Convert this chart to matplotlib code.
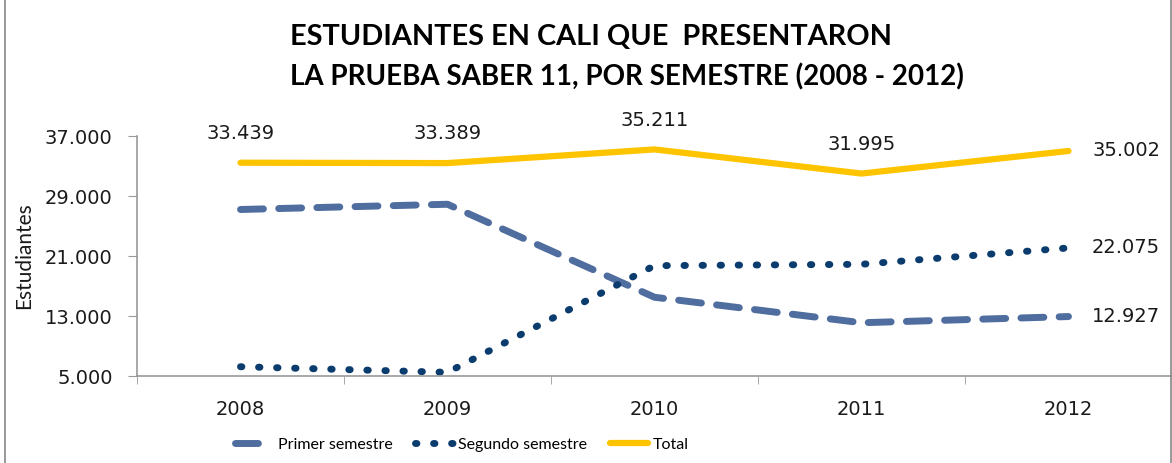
import matplotlib
matplotlib.use('Agg')
import matplotlib.pyplot as plt
from matplotlib.patches import Rectangle

years = ["2008", "2009", "2010", "2011", "2012"]
primer = [27200, 27900, 15500, 12100, 12927]
segundo = [6239, 5489, 19711, 19895, 22075]
total = [33439, 33389, 35211, 31995, 35002]
yticks = [5000, 13000, 21000, 29000, 37000]


def fmt(v):
    return "{:,}".format(v).replace(",", ".")


fig = plt.figure(figsize=(11.72, 4.63), dpi=100)
ax = fig.add_axes([137 / 1172, 1 - 376 / 463, 1 - 137 / 1172, 240 / 463])

x = list(range(len(years)))
c_primer = "#4f6d9e"
c_segundo = "#0b3c6e"
c_total = "#ffc400"

ax.plot(x, primer, color=c_primer, lw=5, dashes=(3.3, 2.2),
        dash_capstyle='round', label="Primer semestre")
ax.plot(x, segundo, color=c_segundo, lw=5, dashes=(0.2, 2.4),
        dash_capstyle='round', label="Segundo semestre")
ax.plot(x, total, color=c_total, lw=4.5, solid_capstyle='round',
        label="Total")

lab = dict(fontsize=14, color="#1a1a1a", family="DejaVu Sans")
for i in range(4):
    ax.annotate(fmt(total[i]), (x[i], total[i]), xytext=(0, 21),
                textcoords='offset points', ha='center', va='center', **lab)
for series in (total, segundo, primer):
    ax.annotate(fmt(series[-1]), (x[-1], series[-1]), xytext=(17, 0),
                textcoords='offset points', ha='left', va='center', **lab)

ax.set_xlim(-0.5, 4.5)
ax.set_ylim(5000, 37000)
ax.set_yticks(yticks)
ax.set_yticklabels([fmt(v) for v in yticks], fontsize=14, color="#1a1a1a")
ax.set_xticks(x)
ax.set_xticklabels(years, fontsize=14, color="#1a1a1a")
ax.set_xticks([i - 0.5 for i in range(6)], minor=True)
ax.tick_params(axis='x', which='major', length=0, pad=17.5)
ax.tick_params(axis='x', which='minor', length=6, color="#999999")
ax.tick_params(axis='y', length=6.5, color="#999999", pad=11)
for s in ("top", "right"):
    ax.spines[s].set_visible(False)
for s in ("left", "bottom"):
    ax.spines[s].set_color("#999999")
    ax.spines[s].set_linewidth(1.2)
ax.set_ylabel("Estudiantes", fontsize=15, color="#1a1a1a", family="Lato")
ax.yaxis.set_label_coords(-0.099, 0.5)

fig.text(290 / 1172, 0.92, "ESTUDIANTES EN CALI QUE  PRESENTARON",
         ha='left', va='center', fontsize=20.8, fontweight='bold', family="Lato")
fig.text(290 / 1172, 0.833, "LA PRUEBA SABER 11, POR SEMESTRE (2008 - 2012)",
         ha='left', va='center', fontsize=20, fontweight='bold', family="Lato")

fig.legend(loc='center', bbox_to_anchor=(462 / 1172, 0.039), ncol=3, frameon=False,
           prop={'family': 'Lato', 'size': 11.5}, handlelength=2.4,
           columnspacing=1.4, handletextpad=0.3)

fig.patches.append(Rectangle((0.004, -0.01), 0.995, 1.02, transform=fig.transFigure,
                             fill=False, edgecolor="#888888", lw=1.2))

fig.savefig("out.png", dpi=100)
